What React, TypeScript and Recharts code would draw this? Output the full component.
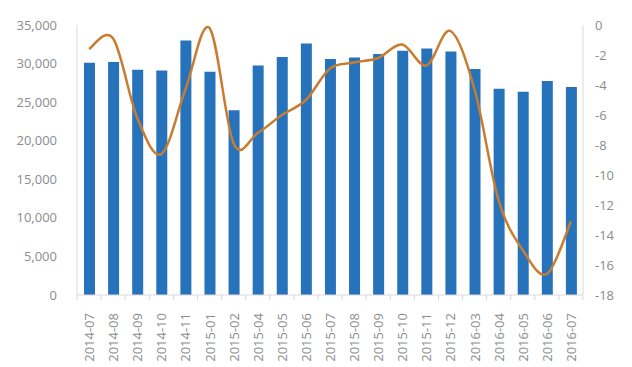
import React from "react";
import { ComposedChart, Bar, Line, XAxis, YAxis } from "recharts";

const months = [
    "2014-07", "2014-08", "2014-09", "2014-10", "2014-11", "2015-01", "2015-02",
    "2015-04", "2015-05", "2015-06", "2015-07", "2015-08", "2015-09", "2015-10",
    "2015-11", "2015-12", "2016-03", "2016-04", "2016-05", "2016-06", "2016-07"
];

const volume = [
    30100, 30200, 29200, 29100, 33000, 28950, 23950,
    29750, 30850, 32600, 30600, 30800, 31250, 31650,
    31950, 31550, 29300, 26750, 26350, 27750, 26950
];

const growth = [
    -1.6, -0.9, -6.2, -8.6, -4.3, -0.2, -7.9,
    -7.2, -6.0, -5.0, -2.9, -2.5, -2.2, -1.3,
    -2.7, -0.4, -4.3, -11.7, -15.0, -16.6, -13.1
];

const leftTicks = [0, 5000, 10000, 15000, 20000, 25000, 30000, 35000];
const rightTicks = [-18, -16, -14, -12, -10, -8, -6, -4, -2, 0];

const data = months.map((m, i) => ({ month: m, volume: volume[i], growth: growth[i] }));

const textColor = "#8c8c8c";
const axisColor = "#d9d9d9";
const font = "'Open Sans', 'Noto Sans', sans-serif";

// smoothed line like a spreadsheet's (Catmull-Rom through every point)
const smoothCurve = (context: any) => {
    let pts: number[][] = [];
    return {
        areaStart() {},
        areaEnd() {},
        lineStart() {
            pts = [];
        },
        point(x: number, y: number) {
            pts.push([+x, +y]);
        },
        lineEnd() {
            if (!pts.length) return;
            context.moveTo(pts[0][0], pts[0][1]);
            for (let i = 0; i < pts.length - 1; i++) {
                const p0 = pts[i - 1] || pts[i];
                const p1 = pts[i];
                const p2 = pts[i + 1];
                const p3 = pts[i + 2] || p2;
                context.bezierCurveTo(
                    p1[0] + (p2[0] - p0[0]) / 6,
                    p1[1] + (p2[1] - p0[1]) / 6,
                    p2[0] - (p3[0] - p1[0]) / 6,
                    p2[1] - (p3[1] - p1[1]) / 6,
                    p2[0],
                    p2[1]
                );
            }
        }
    };
};

const MonthTick = (props: any) => {
    const { x, y, payload, index } = props;
    const half = 12;
    return (
        <g transform={`translate(${x},${y})`}>
            <line x1={-half} y1={-8} x2={-half} y2={-3} stroke={axisColor} />
            {index === months.length - 1 && (
                <line x1={half} y1={-8} x2={half} y2={-3} stroke={axisColor} />
            )}
            <text
                transform="rotate(-90)"
                x={-10}
                y={0}
                textAnchor="end"
                dominantBaseline="central"
                fill={textColor}
                fontSize={13}
                fontFamily={font}
            >
                {payload.value}
            </text>
        </g>
    );
};

const App: React.FC = () => {
    return (
        <div style={{ position: "absolute", left: 0, top: 0, background: "#fff" }}>
            <ComposedChart
                width={632}
                height={367}
                data={data}
                margin={{ top: 25, right: 0, bottom: 0, left: 0 }}
            >
                <XAxis
                    dataKey="month"
                    height={72}
                    interval={0}
                    tick={<MonthTick />}
                    tickLine={false}
                    axisLine={{ stroke: axisColor }}
                />
                <YAxis
                    yAxisId="left"
                    width={77}
                    domain={[0, 35000]}
                    ticks={leftTicks}
                    tickFormatter={(v: number) => v.toLocaleString("en-US")}
                    tickLine={false}
                    tickSize={6}
                    tickMargin={14}
                    axisLine={{ stroke: axisColor }}
                    tick={{ fill: textColor, fontSize: 13, fontFamily: font }}
                />
                <YAxis
                    yAxisId="right"
                    orientation="right"
                    width={49}
                    domain={[-18, 0]}
                    ticks={rightTicks}
                    tickLine={false}
                    tickSize={6}
                    tickMargin={6}
                    axisLine={{ stroke: axisColor }}
                    tick={{ fill: textColor, fontSize: 13, fontFamily: font, textAnchor: "start" }}
                />
                <Bar
                    yAxisId="left"
                    dataKey="volume"
                    fill="#2673BC"
                    barSize={11}
                    isAnimationActive={false}
                />
                <Line
                    yAxisId="right"
                    type={smoothCurve as any}
                    dataKey="growth"
                    stroke="#C97C30"
                    strokeWidth={2.5}
                    dot={false}
                    isAnimationActive={false}
                />
            </ComposedChart>
        </div>
    );
};

export default App;
